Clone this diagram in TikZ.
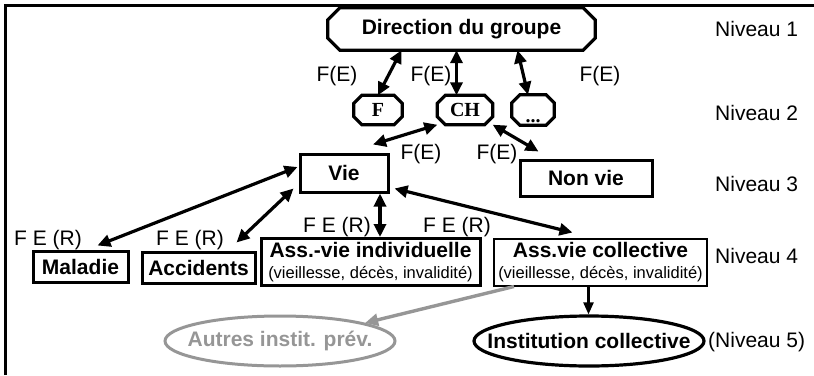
\documentclass[tikz,border=0pt]{standalone}
\usepackage{fontspec}
\setmainfont{Liberation Sans}
\newfontfamily\timesf{Liberation Serif}
\usetikzlibrary{arrows.meta,shapes.geometric,calc}
\newcommand\octdraw[2]{%
  \draw[octline] ($(#1.north west)+(#2,0)$) -- ($(#1.north east)+(-#2,0)$)
    -- ($(#1.north east)+(0,#2)$) -- ($(#1.south east)+(0,-#2)$)
    -- ($(#1.south east)+(-#2,0)$) -- ($(#1.south west)+(#2,0)$)
    -- ($(#1.south west)+(0,-#2)$) -- ($(#1.north west)+(0,#2)$) -- cycle;}
\begin{document}
\begin{tikzpicture}[x=1pt,y=-1pt,
  every node/.style={font=\fontsize{21}{23}\selectfont, inner sep=0pt},
  bfnode/.style={font=\fontsize{21}{23}\selectfont\bfseries},
  octline/.style={line width=3.2pt, line join=miter},
  octnode/.style={font=\fontsize{20}{22}\selectfont\timesf\bfseries},
  rbox/.style={draw, rectangle, line width=3pt, font=\fontsize{21}{23}\selectfont\bfseries},
  twobox/.style={draw, rectangle, line width=3pt, align=center},
  ell/.style={ellipse, line width=3.2pt, minimum width=230pt, minimum height=50pt, font=\fontsize{21}{23}\selectfont\bfseries},
  lvl/.style={anchor=west},
  arr/.style={line width=3.2pt, {Triangle[length=13pt,width=12pt]}-{Triangle[length=13pt,width=12pt]}},
  arrd/.style={line width=2.4pt, -{Triangle[length=12pt,width=10pt]}},
  grayarr/.style={line width=3.4pt, draw=grayc, -{Triangle[length=13pt,width=12pt]}},
]
\definecolor{grayc}{RGB}{150,150,150}
\useasboundingbox (0,0) rectangle (814,375);
\draw[line width=3pt] (5,375) -- (5,5) -- (814,5);

% level 1
\node[bfnode, minimum width=267pt, minimum height=42pt] (dir) at (461.5,29) {Direction du groupe};
\octdraw{dir}{12}
% level 2
\node[octnode, minimum width=48pt, minimum height=29pt] (F) at (378,110) {F};
\octdraw{F}{8}
\node[octnode, minimum width=55pt, minimum height=29pt] (CH) at (465,110) {CH};
\octdraw{CH}{8}
\node[minimum width=42pt, minimum height=30pt] (dots) at (533,110) {};
\octdraw{dots}{8}
\node[octnode, anchor=base] at ($(dots.south)+(0,-3)$) {...};
% level 3
\node[rbox, minimum width=88pt, minimum height=38pt] (vie) at (344,173) {Vie};
\node[rbox, minimum width=132pt, minimum height=36pt] (nonvie) at (586,178) {Non vie};
% level 4
\node[rbox, minimum width=95pt, minimum height=31pt] (mal) at (80.5,266.5) {Maladie};
\node[rbox, minimum width=113pt, minimum height=31pt] (acc) at (198.5,267.5) {Accidents};
\node[twobox, minimum width=219pt, minimum height=47pt] (indiv) at (370.5,262)
  {\textbf{Ass.-vie individuelle}\\[-2pt]{\fontsize{16.5}{18}\selectfont (vieillesse, décès, invalidité)}};
\node[twobox, line width=2pt, minimum width=213pt, minimum height=47pt] (coll) at (600.5,262)
  {\textbf{Ass.vie collective}\\[-2pt]{\fontsize{16.5}{18}\selectfont (vieillesse, décès, invalidité)}};
% level 5
\node[draw, ell] (inst) at (589,341) {\makebox[0pt]{Institution collective}};
\node[draw=grayc, ell, line width=3pt, text=grayc] (autres) at (280,341) {\makebox[0pt]{Autres instit. prév.}};

% level labels
\node[lvl] (n1) at (715,29) {Niveau 1};
\node[lvl] (n2) at (715,113) {Niveau 2};
\node[lvl] (n3) at (715,184) {Niveau 3};
\node[lvl] (n4) at (715,256) {Niveau 4};
\node[lvl] (n5) at (708,342) {(Niveau 5)};

% edge labels
\node (fe1) at (337,76) {F(E)};
\node (fe2) at (431,76) {F(E)};
\node (fe3) at (600,76) {F(E)};
\node (fe4) at (421,154) {F(E)};
\node (fe5) at (497,154) {F(E)};
\node (fr1) at (48,240) {F E (R)};
\node (fr2) at (190,240) {F E (R)};
\node (fr3) at (337,227) {F E (R)};
\node (fr4) at (457,227) {F E (R)};

% connectors
\draw[arr] ($(dir.south)+(-60,0)$) -- (F.north);
\draw[arr] ($(dir.south)+(-5,0)$) coordinate (a2) -- (a2 |- CH.north);
\draw[arr] ($(dir.south)+(56,0)$) -- ($(dots.north)+(-5,0)$);
\draw[arr] (CH.south west) -- ($(vie.north)+(29,-8)$);
\draw[arr] (CH.south east) -- ($(nonvie.north west)+(20,-7)$);
\draw[arr] ($(vie.west)+(-1,-6)$) -- ($(mal.north)+(17,-4)$);
\draw[arr] ($(vie.south west)+(-5,-5)$) -- ($(acc.north east)+(-20,-8)$);
\draw[arr] ($(vie.south)+(36,0)$) coordinate (a8) -- (a8 |- indiv.north);
\draw[arr] ($(vie.south east)+(5,-5)$) -- ($(coll.north)+(-28,-5)$);
\draw[arrd] ($(coll.south)+(-12,0)$) coordinate (a10) -- (a10 |- inst.north);
\draw[grayarr] ($(coll.south west)+(21,0)$) -- (autres.12);
\end{tikzpicture}
\end{document}
